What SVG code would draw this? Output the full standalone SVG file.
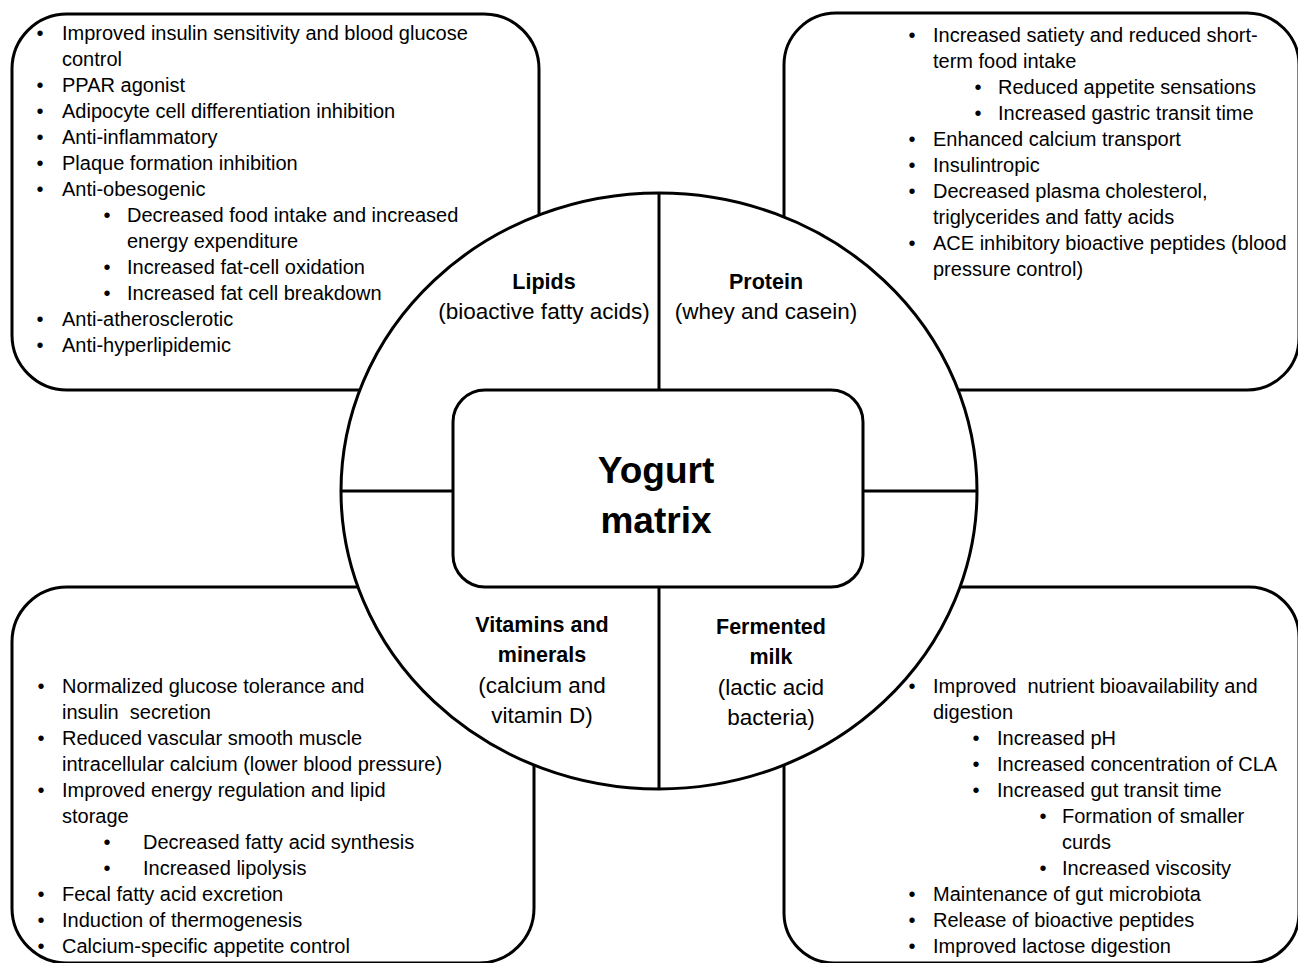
<svg xmlns="http://www.w3.org/2000/svg" width="1298" height="963" viewBox="0 0 1298 963">
<style>
.box{fill:#fff;stroke:#000;stroke-width:3}
.ln{stroke:#000;stroke-width:3;fill:none}
.t{font-family:"Liberation Sans",Arial,sans-serif;font-size:20px;fill:#000}
.b{font-family:"Liberation Sans",Arial,sans-serif;font-size:20px;fill:#000;text-anchor:middle}
.h{font-family:"Liberation Sans",Arial,sans-serif;font-size:21.5px;font-weight:bold;fill:#000;text-anchor:middle}
.s{font-family:"Liberation Sans",Arial,sans-serif;font-size:22.5px;fill:#000;text-anchor:middle}
.y{font-family:"Liberation Sans",Arial,sans-serif;font-size:37px;font-weight:bold;fill:#000;text-anchor:middle}
</style>
<rect width="1298" height="963" fill="#fff"/>

<g id="lipids-effects">
<rect class="box" x="12" y="14" width="527" height="376" rx="55"/>
<text class="b" x="40" y="40">•</text><text class="t" x="62" y="40">Improved insulin sensitivity and blood glucose</text>
<text class="t" x="62" y="66">control</text>
<text class="b" x="40" y="92">•</text><text class="t" x="62" y="92">PPAR agonist</text>
<text class="b" x="40" y="118">•</text><text class="t" x="62" y="118">Adipocyte cell differentiation inhibition</text>
<text class="b" x="40" y="144">•</text><text class="t" x="62" y="144">Anti-inflammatory</text>
<text class="b" x="40" y="170">•</text><text class="t" x="62" y="170">Plaque formation inhibition</text>
<text class="b" x="40" y="196">•</text><text class="t" x="62" y="196">Anti-obesogenic</text>
<text class="b" x="107" y="222">•</text><text class="t" x="127" y="222">Decreased food intake and increased</text>
<text class="t" x="127" y="248">energy expenditure</text>
<text class="b" x="107" y="274">•</text><text class="t" x="127" y="274">Increased fat-cell oxidation</text>
<text class="b" x="107" y="300">•</text><text class="t" x="127" y="300">Increased fat cell breakdown</text>
<text class="b" x="40" y="326">•</text><text class="t" x="62" y="326">Anti-atherosclerotic</text>
<text class="b" x="40" y="352">•</text><text class="t" x="62" y="352">Anti-hyperlipidemic</text>
</g>

<g id="protein-effects">
<rect class="box" x="784" y="13" width="515" height="377" rx="52"/>
<text class="b" x="912" y="42">•</text><text class="t" x="933" y="42">Increased satiety and reduced short-</text>
<text class="t" x="933" y="68">term food intake</text>
<text class="b" x="978" y="94">•</text><text class="t" x="998" y="94">Reduced appetite sensations</text>
<text class="b" x="978" y="120">•</text><text class="t" x="998" y="120">Increased gastric transit time</text>
<text class="b" x="912" y="146">•</text><text class="t" x="933" y="146">Enhanced calcium transport</text>
<text class="b" x="912" y="172">•</text><text class="t" x="933" y="172">Insulintropic</text>
<text class="b" x="912" y="198">•</text><text class="t" x="933" y="198">Decreased plasma cholesterol,</text>
<text class="t" x="933" y="224">triglycerides and fatty acids</text>
<text class="b" x="912" y="250">•</text><text class="t" x="933" y="250">ACE inhibitory bioactive peptides (blood</text>
<text class="t" x="933" y="276">pressure control)</text>
</g>

<g id="vitamins-effects">
<rect class="box" x="12" y="587" width="522" height="376" rx="55"/>
<text class="b" x="41" y="693">•</text><text class="t" x="62" y="693">Normalized glucose tolerance and</text>
<text class="t" x="62" y="719">insulin&#160; secretion</text>
<text class="b" x="41" y="745">•</text><text class="t" x="62" y="745">Reduced vascular smooth muscle</text>
<text class="t" x="62" y="771">intracellular calcium (lower blood pressure)</text>
<text class="b" x="41" y="797">•</text><text class="t" x="62" y="797">Improved energy regulation and lipid</text>
<text class="t" x="62" y="823">storage</text>
<text class="b" x="107" y="849">•</text><text class="t" x="143" y="849">Decreased fatty acid synthesis</text>
<text class="b" x="107" y="875">•</text><text class="t" x="143" y="875">Increased lipolysis</text>
<text class="b" x="41" y="901">•</text><text class="t" x="62" y="901">Fecal fatty acid excretion</text>
<text class="b" x="41" y="927">•</text><text class="t" x="62" y="927">Induction of thermogenesis</text>
<text class="b" x="41" y="953">•</text><text class="t" x="62" y="953">Calcium-specific appetite control</text>
</g>

<g id="fermented-effects">
<rect class="box" x="784" y="587" width="515" height="376" rx="50"/>
<text class="b" x="912" y="693">•</text><text class="t" x="933" y="693">Improved&#160; nutrient bioavailability and</text>
<text class="t" x="933" y="719">digestion</text>
<text class="b" x="976" y="745">•</text><text class="t" x="997" y="745">Increased pH</text>
<text class="b" x="976" y="771">•</text><text class="t" x="997" y="771">Increased concentration of CLA</text>
<text class="b" x="976" y="797">•</text><text class="t" x="997" y="797">Increased gut transit time</text>
<text class="b" x="1043" y="823">•</text><text class="t" x="1062" y="823">Formation of smaller</text>
<text class="t" x="1062" y="849">curds</text>
<text class="b" x="1043" y="875">•</text><text class="t" x="1062" y="875">Increased viscosity</text>
<text class="b" x="912" y="901">•</text><text class="t" x="933" y="901">Maintenance of gut microbiota</text>
<text class="b" x="912" y="927">•</text><text class="t" x="933" y="927">Release of bioactive peptides</text>
<text class="b" x="912" y="953">•</text><text class="t" x="933" y="953">Improved lactose digestion</text>
</g>

<g id="circle">
<ellipse class="box" cx="659" cy="491" rx="318" ry="298"/>
</g>

<g id="connectors">
<line class="ln" x1="659" y1="193" x2="659" y2="390"/>
<line class="ln" x1="659" y1="587" x2="659" y2="789"/>
<line class="ln" x1="341" y1="491" x2="453" y2="491"/>
<line class="ln" x1="863" y1="491" x2="977" y2="491"/>
</g>

<g id="lipids">
<text class="h" x="544" y="289">Lipids</text>
<text class="s" x="544" y="319">(bioactive fatty acids)</text>
</g>
<g id="protein">
<text class="h" x="766" y="289">Protein</text>
<text class="s" x="766" y="319">(whey and casein)</text>
</g>
<g id="vitamins">
<text class="h" x="542" y="632">Vitamins and</text>
<text class="h" x="542" y="662">minerals</text>
<text class="s" x="542" y="693">(calcium and</text>
<text class="s" x="542" y="723">vitamin D)</text>
</g>
<g id="fermented">
<text class="h" x="771" y="634">Fermented</text>
<text class="h" x="771" y="664">milk</text>
<text class="s" x="771" y="695">(lactic acid</text>
<text class="s" x="771" y="725">bacteria)</text>
</g>

<g id="yogurt-matrix">
<rect class="box" x="453" y="390" width="410" height="197" rx="32"/>
<text class="y" x="656" y="483">Yogurt</text>
<text class="y" x="656" y="533">matrix</text>
</g>
</svg>
